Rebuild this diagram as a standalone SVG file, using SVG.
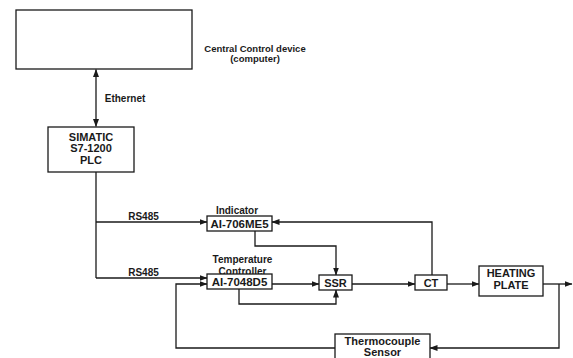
<svg xmlns="http://www.w3.org/2000/svg" width="573" height="358" viewBox="0 0 573 358">
<defs>
<style>
.box{fill:#fff;stroke:#1a1a1a;stroke-width:1.3}
.ln{fill:none;stroke:#1a1a1a;stroke-width:1.3}
text{font-family:"Liberation Sans",Arial,sans-serif;font-weight:bold;fill:#1a1a1a;text-anchor:middle}
.s95{font-size:9.5px}
.s10{font-size:10px}
.s11{font-size:11px}
.s115{font-size:11.5px}
</style>
<marker id="ah" markerWidth="8" markerHeight="6" refX="7.5" refY="3" orient="auto" markerUnits="userSpaceOnUse">
<path d="M0,0 L8,3 L0,6 Z" fill="#1a1a1a"/>
</marker>
<marker id="ahs" markerWidth="8" markerHeight="6" refX="0.5" refY="3" orient="auto" markerUnits="userSpaceOnUse">
<path d="M8,0 L0,3 L8,6 Z" fill="#1a1a1a"/>
</marker>
</defs>
<rect width="573" height="358" fill="#fff"/>
<g id="connectors">
<path class="ln" d="M96,69.5 V126.5" marker-start="url(#ahs)" marker-end="url(#ah)"/>
<path class="ln" d="M96,172 V278"/>
<path class="ln" d="M96,222 H207" marker-end="url(#ah)"/>
<path class="ln" d="M96,278 H207" marker-end="url(#ah)"/>
<path class="ln" d="M335,348 H176 V284 H207" marker-end="url(#ah)"/>
<path class="ln" d="M255,231 V246 H336 V275" marker-end="url(#ah)"/>
<path class="ln" d="M272,284 H319" marker-end="url(#ah)"/>
<path class="ln" d="M239,289 V304 H336 V290" marker-end="url(#ah)"/>
<path class="ln" d="M352,284 H415" marker-end="url(#ah)"/>
<path class="ln" d="M447,284 H479" marker-end="url(#ah)"/>
<path class="ln" d="M432,275 V222 H272" marker-end="url(#ah)"/>
<path class="ln" d="M543,284 H572" marker-end="url(#ah)"/>
<path class="ln" d="M559,284 V348 H430" marker-end="url(#ah)"/>
</g>
<g id="central">
<rect class="box" x="16" y="10" width="176" height="59"/>
<text class="s95" x="255" y="52">Central Control device</text>
<text class="s95" x="255" y="62">(computer)</text>
</g>
<g id="ethernet-label"><text class="s10" x="125" y="102">Ethernet</text></g>
<g id="plc">
<rect class="box" x="48" y="127" width="86" height="45"/>
<text class="s11" x="91" y="141">SIMATIC</text>
<text class="s11" x="91" y="152">S7-1200</text>
<text class="s11" x="91" y="164">PLC</text>
</g>
<g id="rs485-labels">
<text class="s10" x="143.5" y="220">RS485</text>
<text class="s10" x="143.5" y="276">RS485</text>
</g>
<g id="indicator">
<text class="s10" x="237" y="214">Indicator</text>
<rect class="box" x="207" y="216" width="65" height="15"/>
<text class="s115" x="239.5" y="228">AI-706ME5</text>
</g>
<g id="temp-controller">
<text class="s10" x="242.5" y="263">Temperature</text>
<text class="s10" x="242.5" y="275">Controller</text>
<rect class="box" x="207" y="274" width="65" height="15"/>
<text class="s115" x="239.5" y="286">AI-7048D5</text>
</g>
<g id="ssr">
<rect class="box" x="319" y="275" width="33" height="15"/>
<text class="s11" x="335.5" y="287">SSR</text>
</g>
<g id="ct">
<rect class="box" x="415" y="275" width="32" height="15"/>
<text class="s11" x="431" y="287">CT</text>
</g>
<g id="heating-plate">
<rect class="box" x="479" y="266" width="64" height="30"/>
<text class="s11" x="511" y="277">HEATING</text>
<text class="s11" x="511" y="289">PLATE</text>
</g>
<g id="thermocouple">
<rect class="box" x="335" y="334" width="95" height="30"/>
<text class="s11" x="382.5" y="345">Thermocouple</text>
<text class="s11" x="382.5" y="356">Sensor</text>
</g>
</svg>
